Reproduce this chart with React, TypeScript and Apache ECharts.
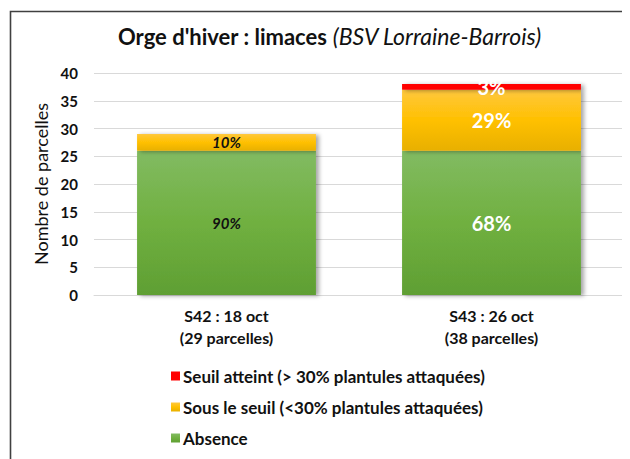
import React, { useEffect, useRef } from "react";
import * as echarts from "echarts";

const categories = ["S42 : 18 oct\n(29 parcelles)", "S43 : 26 oct\n(38 parcelles)"];
const absence = [26, 26];
const sousSeuil = [3, 11];
const seuilAtteint = [0, 1];
const absencePct = ["90%", "68%"];
const sousPct = ["10%", "29%"];
const seuilPct = ["", "3%"];
const seriesNames = [
  "Seuil atteint (> 30% plantules attaquées)",
  "Sous le seuil (<30% plantules attaquées)",
  "Absence",
];

const FONT = "Lato, 'Open Sans', sans-serif";

const grad = (top: string, mid: string, bottom: string) =>
  new echarts.graphic.LinearGradient(0, 0, 0, 1, [
    { offset: 0, color: top },
    { offset: 0.5, color: mid },
    { offset: 1, color: bottom },
  ]);

export default function App() {
  const ref = useRef<HTMLDivElement>(null);
  useEffect(() => {
    if (!ref.current) return;
    const chart = echarts.init(ref.current, undefined, { renderer: "svg" });
    const shadow = {
      shadowBlur: 4,
      shadowOffsetX: 3,
      shadowOffsetY: 1,
      shadowColor: "rgba(0,0,0,0.35)",
    };
    const labelStyle = (i: number) =>
      i === 0
        ? { fontStyle: "italic", fontWeight: "bold", color: "#111", fontSize: 15, fontFamily: FONT }
        : { fontStyle: "normal", fontWeight: "bold", color: "#fff", fontSize: 20, fontFamily: FONT };

    chart.setOption({
      animation: false,
      textStyle: { fontFamily: FONT },
      title: {
        text: "{b|Orge d'hiver : limaces}{i| (BSV Lorraine-Barrois)}",
        left: 110,
        top: 17,
        padding: 0,
        textStyle: {
          rich: {
            b: { fontSize: 22, lineHeight: 22, fontWeight: "bold", color: "#111", fontFamily: FONT },
            i: { fontSize: 23, lineHeight: 22, fontWeight: "normal", fontStyle: "italic", color: "#111", fontFamily: FONT },
          },
        },
      },
      graphic: [
        {
          type: "rect",
          shape: { x: 2.5, y: 3.5, width: 800, height: 800 },
          style: { fill: "none", stroke: "#404040", lineWidth: 1.6 },
          silent: true,
          z: 100,
        },
      ],
      legend: {
        orient: "vertical",
        left: 163,
        top: 359,
        padding: 0,
        itemWidth: 9,
        itemHeight: 9,
        itemGap: 13,
        icon: "rect",
        data: seriesNames,
        textStyle: {
          fontSize: 17,
          lineHeight: 18,
          fontWeight: "bold",
          color: "#111",
          fontFamily: FONT,
          padding: [0, 0, 0, -2],
        },
      },
      grid: { left: 86, right: 6, top: 65, bottom: 164 },
      xAxis: {
        type: "category",
        data: categories,
        axisTick: { show: false },
        axisLine: { lineStyle: { color: "#d9d9d9", width: 1 } },
        axisLabel: {
          fontSize: 16,
          fontWeight: "bold",
          color: "#111",
          lineHeight: 22,
          margin: 9,
          fontFamily: FONT,
        },
      },
      yAxis: {
        type: "value",
        min: 0,
        max: 40,
        interval: 5,
        name: "Nombre de parcelles",
        nameLocation: "middle",
        nameGap: 41,
        nameRotate: 90,
        nameTextStyle: { fontSize: 18, color: "#111", fontFamily: FONT },
        axisLine: { show: false },
        axisTick: { show: false },
        axisLabel: { fontSize: 15, fontWeight: "bold", color: "#111", margin: 16, fontFamily: FONT },
        splitLine: { lineStyle: { color: "#d9d9d9", width: 1 } },
      },
      series: [
        {
          name: seriesNames[2],
          type: "bar",
          stack: "t",
          barWidth: "67.5%",
          itemStyle: { color: grad("#82bb62", "#70b040", "#5f9f33"), ...shadow },
          data: absence.map((v, i) => ({
            value: v,
            label: { show: true, position: "inside", formatter: absencePct[i], ...labelStyle(i) },
          })),
        },
        {
          name: seriesNames[1],
          type: "bar",
          stack: "t",
          itemStyle: { color: grad("#ffc83e", "#ffc000", "#e8b000"), ...shadow },
          data: sousSeuil.map((v, i) => ({
            value: v,
            label: { show: true, position: "inside", formatter: sousPct[i], ...labelStyle(i) },
          })),
        },
        {
          name: seriesNames[0],
          type: "bar",
          stack: "t",
          itemStyle: { color: "#ff0000", ...shadow },
          data: seuilAtteint.map((v, i) => ({
            value: v,
            label: { show: !!seuilPct[i], position: "inside", formatter: seuilPct[i], ...labelStyle(i) },
          })),
        },
      ],
    });
    return () => chart.dispose();
  }, []);
  return <div ref={ref} style={{ width: 622, height: 451 }} />;
}
